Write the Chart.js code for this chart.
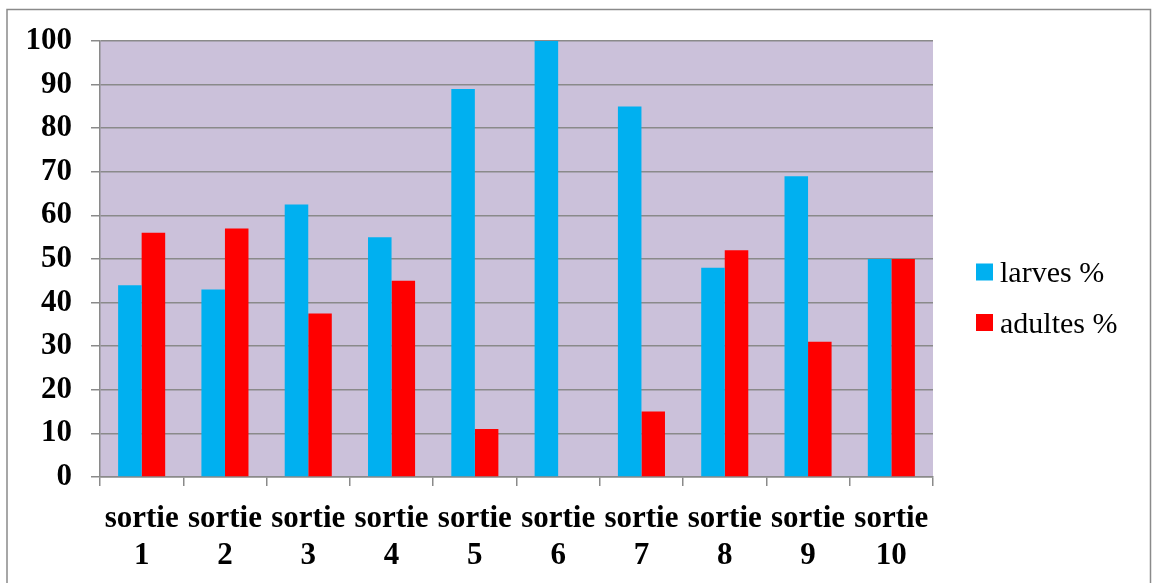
<!DOCTYPE html>
<html>
<head>
<meta charset="utf-8">
<script src="https://cdn.jsdelivr.net/npm/chart.js@4"></script>
<style>
  body { margin: 0; background: #fff; }
  canvas { display: block; }
</style>
</head>
<body>
<canvas id="myChart" width="1152" height="583"></canvas>
<script>
const categories = [['sortie', '1'], ['sortie', '2'], ['sortie', '3'], ['sortie', '4'], ['sortie', '5'],
  ['sortie', '6'], ['sortie', '7'], ['sortie', '8'], ['sortie', '9'], ['sortie', '10']]
const larves = [44, 43, 62.5, 55, 89, 100, 85, 48, 69, 50]
const adultes = [56, 57, 37.5, 45, 11, 0, 15, 52, 31, 50]
const seriesNames = ['larves %', 'adultes %']

const serif = '"Liberation Serif", "Times New Roman", Times, serif'
const gridColor = '#8a8a8a'

// plot background + outer frame + legend drawn by hand
const decor = {
  id: 'decor',
  beforeDraw(chart) {
    const { ctx, chartArea: a } = chart
    ctx.save()
    ctx.fillStyle = '#cbc1da'
    ctx.fillRect(a.left, a.top, a.right - a.left, a.bottom - a.top)
    ctx.strokeStyle = gridColor
    ctx.lineWidth = 1.5
    ctx.strokeRect(7, 9.5, 1143.5, 600)
    ctx.restore()
  },
  afterDraw(chart) {
    const ctx = chart.ctx
    ctx.save()
    ctx.font = '30px ' + serif
    ctx.textBaseline = 'alphabetic'
    chart.data.datasets.forEach((ds, i) => {
      const y = 272 + i * 50.5
      ctx.fillStyle = ds.backgroundColor
      ctx.fillRect(976, y - 8.5, 17, 17)
      ctx.fillStyle = '#000'
      ctx.fillText(ds.label, 1000, y + 10)
    })
    ctx.restore()
  }
}

const data = {
  labels: categories,
  datasets: [{
    label: seriesNames[0],
    backgroundColor: '#00b0f0',
    data: larves,
  }, {
    label: seriesNames[1],
    backgroundColor: '#ff0000',
    data: adultes,
  }]
}

const config = {
  type: 'bar',
  data: data,
  options: {
    responsive: false,
    animation: false,
    devicePixelRatio: 1,
    categoryPercentage: 0.565,
    barPercentage: 1,
    layout: { padding: { top: 41, right: 219, left: 0, bottom: 0 } },
    plugins: {
      legend: { display: false },
      tooltip: { enabled: false }
    },
    scales: {
      x: {
        afterFit: (axis) => { axis.height = 106 },
        grid: { drawOnChartArea: false, color: gridColor, lineWidth: 1.5, tickLength: 9 },
        border: { color: gridColor, width: 1.5 },
        ticks: {
          color: '#000',
          padding: 14,
          maxRotation: 0,
          autoSkip: false,
          font: { family: serif, size: 31, weight: 'bold', lineHeight: 1.2 }
        }
      },
      y: {
        min: 0,
        max: 100,
        afterFit: (axis) => { axis.width = 100 },
        grid: { color: gridColor, lineWidth: 1.5, tickLength: 9 },
        border: { color: gridColor, width: 1.5 },
        ticks: {
          stepSize: 10,
          color: '#000',
          padding: 19,
          font: { family: serif, size: 31, weight: 'bold' }
        }
      }
    }
  },
  plugins: [decor]
}

const myChart = new Chart(document.getElementById('myChart'), config)
</script>
</body>
</html>
